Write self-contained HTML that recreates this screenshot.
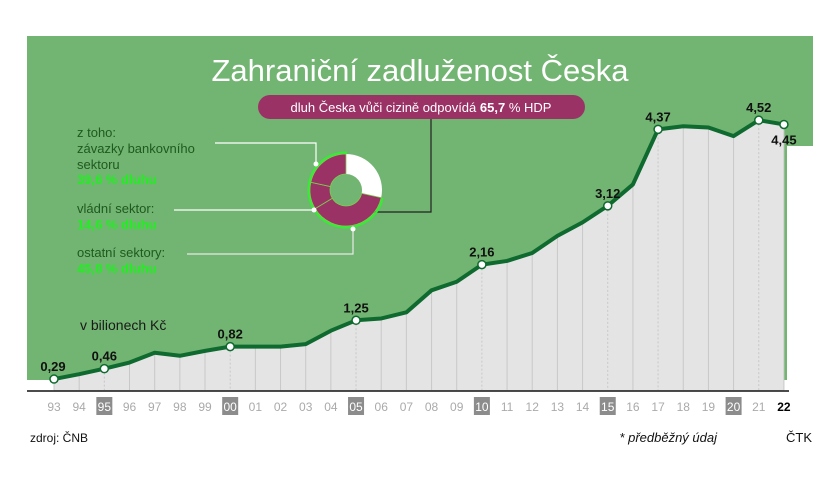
<!DOCTYPE html>
<html><head><meta charset="utf-8"><style>
body{margin:0;background:#fff;}
svg{display:block;font-family:"Liberation Sans",sans-serif;}
</style></head><body>
<svg width="840" height="480" viewBox="0 0 840 480">
<rect x="27" y="36" width="786" height="110" fill="#72b472"/>
<rect x="27" y="140" width="760" height="240" fill="#72b472"/>
<g id="plot"></g>
<text x="420" y="81" text-anchor="middle" font-size="31" fill="#fff">Zahraniční zadluženost Česka</text>
<rect x="258" y="95" width="327" height="24" rx="12" fill="#9b3266"/>
<text x="421" y="112" text-anchor="middle" font-size="13" fill="#fff">dluh Česka vůči cizině odpovídá <tspan font-weight="bold">65,7</tspan> % HDP</text>
<polyline points="431,119 431,212 372,212" fill="none" stroke="#222" stroke-width="1.2"/>
<g id="donut"></g>
<polyline points="215,143 316,143 316,164" fill="none" stroke="#fff" stroke-width="1.2"/>
<circle cx="316" cy="164" r="2.5" fill="#fff"/>
<polyline points="174,210 314,210" fill="none" stroke="#fff" stroke-width="1.2"/>
<circle cx="314" cy="210" r="2.5" fill="#fff"/>
<polyline points="187,254 353,254 353,229" fill="none" stroke="#e8e8e8" stroke-width="1.2"/>
<circle cx="353" cy="229" r="2.5" fill="#fff"/>
<g font-size="13" fill="#1f5a1f">
<text x="77" y="137">z toho:</text>
<text x="77" y="153">závazky bankovního</text>
<text x="77" y="169">sektoru</text>
<text x="77" y="184" fill="#22ee22" font-weight="bold">39,6 % dluhu</text>
<text x="77" y="213">vládní sektor:</text>
<text x="77" y="229" fill="#22ee22" font-weight="bold">14,6 % dluhu</text>
<text x="77" y="257">ostatní sektory:</text>
<text x="77" y="273" fill="#22ee22" font-weight="bold">45,8 % dluhu</text>
</g>
<text x="80" y="330" font-size="14" fill="#1a1a1a">v bilionech Kč</text>
<text x="30" y="442" font-size="12" fill="#111">zdroj: ČNB</text>
<text x="717" y="442" font-size="13" font-style="italic" fill="#111" text-anchor="end">* předběžný údaj</text>
<text x="786" y="442" font-size="13" fill="#111">ČTK</text>
</svg>
<script>
const years=["93","94","95","96","97","98","99","00","01","02","03","04","05","06","07","08","09","10","11","12","13","14","15","16","17","18","19","20","21","22"];
const values=[0.29,0.37,0.46,0.56,0.72,0.67,0.75,0.82,0.82,0.82,0.86,1.08,1.25,1.28,1.38,1.74,1.88,2.16,2.22,2.35,2.63,2.85,3.12,3.47,4.37,4.42,4.40,4.26,4.52,4.45];
const labeled=["93","95","00","05","10","15","17","21","22"];
const shares=[34.3,45.8,14.6,39.6*65.7/100];
const NS="http://www.w3.org/2000/svg";
function x(i){return 54+i*25.17;}
function y(v){return 396.8-v*61.2;}
function mk(t,a,p){const e=document.createElementNS(NS,t);for(const k in a)e.setAttribute(k,a[k]);(p||g).appendChild(e);return e;}
const g=document.getElementById('plot');
let d="M"+x(0)+",391 ";values.forEach((v,i)=>d+="L"+x(i)+","+y(v)+" ");d+="L"+x(years.length-1)+",391Z";
const area=mk('path',{d:d,fill:'#e4e4e4'});


mk('path',{d:"M27,380 L"+x(0)+",380 L"+x(0)+",391 L27,391Z",fill:'#fff'});
years.forEach((yr,i)=>{
 const dash=labeled.includes(yr)&&yr!=="93"&&yr!=="22";
 const l=mk('line',{x1:x(i),x2:x(i),y1:y(values[i]),y2:390,stroke:'#c8c8c8','stroke-width':1,'stroke-dasharray':dash?'2,2':'none'});
 
 
 const hl=["95","00","05","10","15","20"].includes(yr);
 if(hl){const r=mk('rect',{x:x(i)-8,y:397,width:16,height:18,fill:'#8c8c8c'});
 
 }
 const t=mk('text',{x:x(i),y:411,'text-anchor':'middle','font-size':12,fill:yr==="22"?'#000':(hl?'#fff':'#aaa'),'font-weight':yr==="22"?'bold':'normal'});
 t.textContent=yr;
 
 
});
const ax=mk('line',{x1:27,x2:789,y1:391,y2:391,stroke:'#111','stroke-width':1.5});


const line=mk('polyline',{points:values.map((v,i)=>x(i)+","+y(v)).join(" "),fill:'none',stroke:'#0e6a2e','stroke-width':4,'stroke-linejoin':'round'});


years.forEach((yr,i)=>{
 if(!labeled.includes(yr))return;
 const c=mk('circle',{cx:x(i),cy:y(values[i]),r:4,fill:'#fff',stroke:'#0e6a2e','stroke-width':1.5});
 
 
 const below=yr==="22";
 const t=mk('text',{x:x(i)+(yr==="93"?-1:0),y:below?y(values[i])+20:y(values[i])-8,'text-anchor':'middle','font-size':13,'font-weight':'bold',fill:'#111'});
 t.textContent=values[i].toFixed(2).replace('.',',');
 
 
});
// donut
const dg=document.getElementById('donut');
const cx=346,cy=190,R=36,r0=16;
const cols=['#fff','#9b3266','#9b3266','#9b3266'];
const names=['donut-other-share','donut-others','donut-government','donut-banks'];
let tot=shares.reduce((a,b)=>a+b,0),a0=0;
function pt(a,rad){return [cx+rad*Math.sin(a),cy-rad*Math.cos(a)];}
shares.forEach((s,k)=>{
 const a1=a0+s/tot*2*Math.PI,lg=(a1-a0)>Math.PI?1:0;
 const p1=pt(a0,R),p2=pt(a1,R),p3=pt(a1,r0),p4=pt(a0,r0);
 const p=mk('path',{d:`M${p1} A${R},${R} 0 ${lg} 1 ${p2} L${p3} A${r0},${r0} 0 ${lg} 0 ${p4}Z`,fill:cols[k],stroke:k?'#7ad04a':'none','stroke-width':0.8},dg);
 
 
 a0=a1;
});
const s0=shares[0]/tot*2*Math.PI,q1=pt(s0,R+1.5),q2=pt(2*Math.PI-0.001,R+1.5);
mk('path',{d:`M${q1} A${R+1.5},${R+1.5} 0 1 1 ${q2} L${cx},${cy-R}`,fill:'none',stroke:'#33ee33','stroke-width':2},dg);
</script>
</body></html>
